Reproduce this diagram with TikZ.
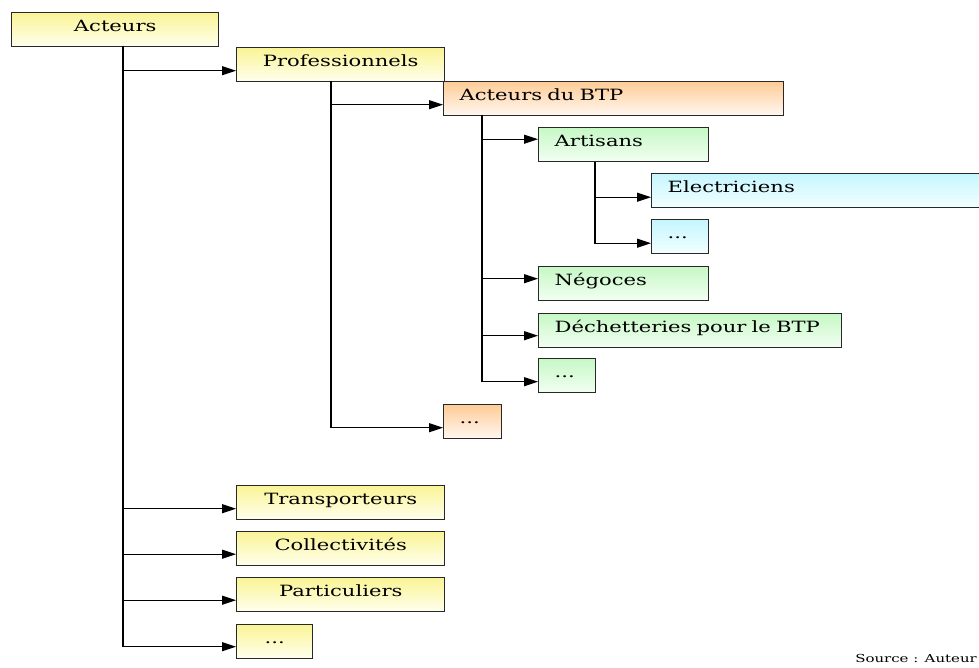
\documentclass[tikz,border=0pt]{standalone}
\usepackage{fontspec}
\setmainfont{DejaVu Serif}[FakeStretch=1.36]
\usepackage{tikz}
\usetikzlibrary{arrows.meta, positioning, calc}
\definecolor{yelTop}{RGB}{250,244,150}
\definecolor{yelBot}{RGB}{255,255,238}
\definecolor{oraTop}{RGB}{255,204,150}
\definecolor{oraBot}{RGB}{255,248,242}
\definecolor{grnTop}{RGB}{198,248,198}
\definecolor{grnBot}{RGB}{242,255,242}
\definecolor{bluTop}{RGB}{198,246,255}
\definecolor{bluBot}{RGB}{242,255,255}
\definecolor{edgeC}{RGB}{40,40,40}
\tikzset{
  box/.style={rectangle, draw=edgeC, line width=1.4pt, anchor=north west,
              minimum height=34pt, inner sep=0pt, font=\fontsize{15.5}{18}\selectfont,
              text height=9pt, text depth=4.5pt},
  boxC/.style={box, align=center},
  boxL/.style={box, align=left, inner xsep=16pt, text width=#1},
  yellowB/.style={shading=axis, top color=yelTop, bottom color=yelBot},
  orangeB/.style={shading=axis, top color=oraTop, bottom color=oraBot},
  greenB/.style={shading=axis, top color=grnTop, bottom color=grnBot},
  blueB/.style={shading=axis, top color=bluTop, bottom color=bluBot},
  arr/.style={draw=black, line width=1.3pt, -{Triangle[length=14pt, width=9pt]}},
}
\begin{document}
\begin{tikzpicture}[x=1pt, y=-1pt]
    \useasboundingbox (0,0) rectangle (979,668);
    %% first level
    \node[boxC, yellowB, minimum width=207pt] (acteurs) at (11,12) {Acteurs};
    \node[boxC, yellowB, minimum width=208pt] (prof) at (236,47) {Professionnels};
    \node[boxC, yellowB, minimum width=208pt] (transp) at (236,485) {Transporteurs};
    \node[boxC, yellowB, minimum width=208pt] (collect) at (236,531) {Collectivités};
    \node[boxC, yellowB, minimum width=208pt] (partic) at (236,577) {Particuliers};
    \node[boxC, yellowB, minimum width=76pt] (actEtc) at (236,624) {...};
    %% professionnels
    \node[boxL=308pt, orangeB] (btp) at (443,81) {Acteurs du BTP};
    \node[boxL=26pt, orangeB] (profEtc) at (443,404) {...};
    %% acteurs du BTP
    \node[boxL=138pt, greenB] (artisans) at (538,127) {Artisans};
    \node[boxL=138pt, greenB] (negoces) at (538,266) {Négoces};
    \node[boxL=271pt, greenB] (dechet) at (538,313) {Déchetteries pour le BTP};
    \node[boxL=25pt, greenB] (btpEtc) at (538,358) {...};
    %% artisans
    \node[boxL=308pt, blueB] (elec) at (651,173) {Electriciens};
    \node[boxL=25pt, blueB] (artEtc) at (651,219) {...};
    %% trunks
    \coordinate (tA) at (123,46);
    \coordinate (tP) at (331,81);
    \coordinate (tB) at (482,115);
    \coordinate (tR) at (595,162);
    %% arrows
    \draw[arr] (tA) |- ([yshift=-6pt]prof.west);
    \draw[arr] (tA) |- ([yshift=-6pt]transp.west);
    \draw[arr] (tA) |- ([yshift=-5.5pt]collect.west);
    \draw[arr] (tA) |- ([yshift=-5.5pt]partic.west);
    \draw[arr] (tA) |- ([yshift=-5pt]actEtc.west);
    \draw[arr] (tP) |- ([yshift=-6pt]btp.west);
    \draw[arr] (tP) |- ([yshift=-6pt]profEtc.west);
    \draw[arr] (tB) |- ([yshift=5.5pt]artisans.west);
    \draw[arr] (tB) |- ([yshift=5pt]negoces.west);
    \draw[arr] (tB) |- ([yshift=-5pt]dechet.west);
    \draw[arr] (tB) |- ([yshift=-6pt]btpEtc.west);
    \draw[arr] (tR) |- ([yshift=-6.5pt]elec.west);
    \draw[arr] (tR) |- ([yshift=-6.5pt]artEtc.west);
    %% source
    \node[anchor=north east, inner sep=0pt, font=\fontsize{11}{13}\selectfont]
      (source) at (977,654) {Source : Auteur};
\end{tikzpicture}
\end{document}
